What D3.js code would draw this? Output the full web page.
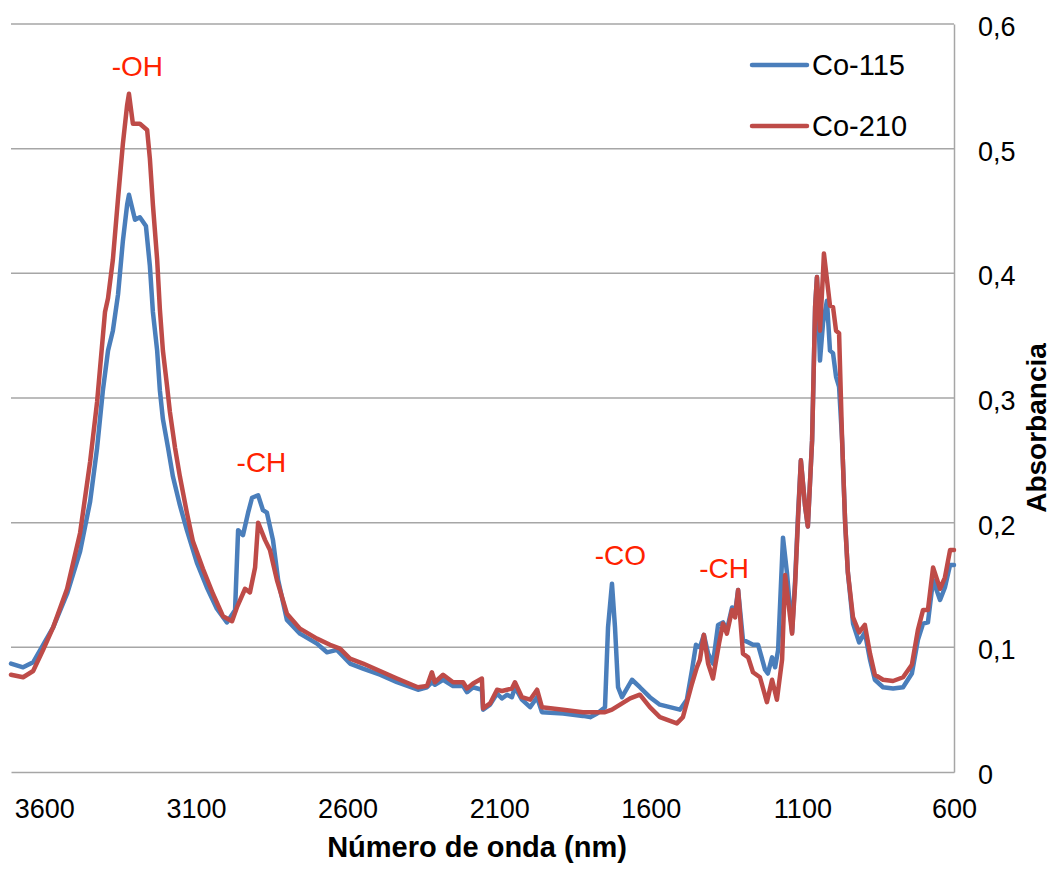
<!DOCTYPE html>
<html><head><meta charset="utf-8">
<script src="https://cdn.jsdelivr.net/npm/d3@7"></script>
<style>
body{margin:0;background:#fff;}
svg{display:block;font-family:"Liberation Sans",Arial,sans-serif;}
</style></head>
<body><svg id="chart" width="1057" height="869"></svg>
<script>
// ---- data ----
const seriesNames = ["Co-115", "Co-210"];
const xTickValues = [3600, 3100, 2600, 2100, 1600, 1100, 600];
const yTickValues = [0, 0.1, 0.2, 0.3, 0.4, 0.5, 0.6];
const yTickLabels = ["0", "0,1", "0,2", "0,3", "0,4", "0,5", "0,6"];
const annotationLabels = ["-OH", "-CH", "-CO", "-CH"];
const annotationWn = [3293, 2884, 1700, 1358];
const annotationAbs = [0.558, 0.241, 0.166, 0.156];

const co115Wn = [3710,3670,3637,3604,3571,3525,3482,3449,3426,3407,3390,3374,3357,3341,3327,3321,3301,3285,3265,3252,3242,3228,3219,3209,3192,3176,3153,3130,3097,3064,3031,2998,2971,2961,2945,2928,2915,2895,2879,2866,2846,2829,2800,2757,2701,2668,2635,2592,2549,2493,2437,2368,2338,2322,2312,2285,2252,2219,2206,2186,2157,2153,2130,2107,2091,2074,2058,2048,2025,1998,1975,1959,1889,1824,1800,1777,1751,1741,1728,1718,1708,1695,1662,1636,1603,1570,1537,1504,1481,1464,1451,1438,1425,1411,1395,1378,1362,1349,1332,1322,1312,1296,1279,1263,1246,1223,1214,1200,1190,1180,1164,1151,1134,1124,1114,1105,1091,1082,1068,1058,1052,1042,1032,1019,1009,999,989,979,969,959,950,933,913,894,877,861,834,801,768,739,719,702,686,669,646,630,613,600];
const co115Abs = [0.087,0.084,0.088,0.102,0.116,0.143,0.177,0.217,0.260,0.306,0.338,0.354,0.383,0.426,0.455,0.463,0.443,0.445,0.438,0.406,0.369,0.338,0.306,0.283,0.260,0.237,0.214,0.194,0.168,0.148,0.131,0.120,0.130,0.194,0.190,0.208,0.220,0.222,0.210,0.208,0.186,0.154,0.122,0.111,0.103,0.096,0.098,0.087,0.083,0.078,0.072,0.066,0.068,0.072,0.070,0.074,0.069,0.069,0.064,0.068,0.066,0.050,0.054,0.063,0.059,0.062,0.060,0.068,0.058,0.052,0.060,0.048,0.047,0.045,0.044,0.047,0.052,0.116,0.151,0.116,0.068,0.060,0.074,0.068,0.060,0.054,0.052,0.050,0.058,0.082,0.102,0.100,0.110,0.095,0.087,0.118,0.120,0.114,0.132,0.128,0.146,0.106,0.104,0.102,0.102,0.082,0.079,0.092,0.084,0.098,0.188,0.160,0.112,0.154,0.208,0.250,0.213,0.197,0.266,0.373,0.397,0.330,0.360,0.378,0.338,0.336,0.317,0.309,0.266,0.200,0.160,0.119,0.104,0.112,0.090,0.074,0.068,0.067,0.068,0.079,0.106,0.119,0.120,0.154,0.138,0.148,0.166,0.166];

const co210Wn = [3710,3670,3637,3604,3571,3525,3482,3449,3426,3400,3390,3374,3357,3341,3327,3321,3308,3285,3261,3252,3242,3228,3219,3209,3196,3186,3169,3153,3130,3110,3077,3044,3011,2981,2965,2938,2922,2905,2895,2872,2856,2833,2800,2757,2701,2658,2625,2592,2549,2493,2437,2368,2338,2322,2312,2285,2252,2219,2206,2186,2157,2153,2130,2107,2091,2074,2058,2048,2025,1998,1975,1959,1889,1824,1777,1751,1728,1668,1636,1603,1570,1514,1494,1464,1448,1438,1425,1411,1395,1375,1362,1349,1332,1322,1312,1296,1279,1263,1240,1217,1200,1184,1167,1157,1134,1124,1114,1105,1091,1082,1068,1058,1052,1042,1032,1029,1019,1009,999,989,979,969,959,950,933,913,894,877,861,834,801,768,739,719,702,686,669,646,630,613,600];
const co210Abs = [0.078,0.076,0.081,0.098,0.116,0.147,0.192,0.249,0.297,0.369,0.380,0.411,0.460,0.504,0.535,0.544,0.520,0.520,0.515,0.492,0.455,0.411,0.371,0.338,0.311,0.289,0.260,0.237,0.208,0.185,0.163,0.143,0.125,0.121,0.132,0.147,0.144,0.164,0.200,0.186,0.178,0.154,0.127,0.115,0.107,0.102,0.099,0.091,0.087,0.081,0.075,0.068,0.069,0.080,0.072,0.078,0.072,0.072,0.067,0.071,0.075,0.051,0.055,0.066,0.065,0.066,0.067,0.072,0.060,0.058,0.066,0.052,0.050,0.048,0.048,0.048,0.050,0.059,0.062,0.052,0.044,0.039,0.044,0.071,0.084,0.090,0.110,0.087,0.075,0.103,0.119,0.111,0.130,0.124,0.146,0.095,0.092,0.080,0.076,0.056,0.074,0.058,0.090,0.158,0.111,0.150,0.205,0.250,0.213,0.197,0.266,0.373,0.397,0.354,0.400,0.416,0.395,0.374,0.373,0.354,0.352,0.266,0.200,0.160,0.124,0.112,0.118,0.095,0.078,0.074,0.073,0.076,0.086,0.114,0.130,0.130,0.164,0.147,0.156,0.178,0.178];

const colors = ["#4a7ebb", "#be4b48"];

// ---- chart ----
const svg = d3.select("#chart");
const plot = {left: 11, right: 954, top: 24, bottom: 772};
const x = d3.scaleLinear().domain([3710, 600]).range([plot.left, plot.right]);
const y = d3.scaleLinear().domain([0, 0.6]).range([plot.bottom, plot.top]);

// gridlines
svg.append("g").selectAll("line").data(yTickValues.filter(v => v > 0)).join("line")
  .attr("x1", plot.left).attr("x2", plot.right)
  .attr("y1", d => y(d)).attr("y2", d => y(d))
  .attr("stroke", "#a6a6a6").attr("stroke-width", 1.5);

// x axis
const xAxis = svg.append("g").attr("transform", `translate(0,${plot.bottom})`)
  .call(d3.axisBottom(x).tickValues(xTickValues).tickSize(0).tickPadding(0).tickFormat(d3.format("d")));
xAxis.select(".domain").attr("stroke", "#a6a6a6").attr("stroke-width", 1.5);
xAxis.selectAll("text").attr("font-size", 27).attr("fill", "#000")
  .attr("font-family", "Liberation Sans, Arial, sans-serif").attr("dy", null).attr("y", 46);

// y axis (right)
const yAxis = svg.append("g").attr("transform", `translate(${plot.right},0)`)
  .call(d3.axisRight(y).tickValues(yTickValues).tickSize(0).tickPadding(24)
    .tickFormat((d, i) => yTickLabels[i]));
yAxis.select(".domain").attr("stroke", "#a6a6a6").attr("stroke-width", 1.5);
yAxis.selectAll("text").attr("font-size", 27).attr("fill", "#000")
  .attr("font-family", "Liberation Sans, Arial, sans-serif").attr("dy", "0.42em");

// lines
const line = d3.line().x(d => x(d[0])).y(d => y(d[1])).curve(d3.curveLinear);
const seriesData = [
  d3.zip(co115Wn, co115Abs),
  d3.zip(co210Wn, co210Abs)
];
svg.append("g").selectAll("path").data(seriesData).join("path")
  .attr("d", line).attr("fill", "none")
  .attr("stroke", (d, i) => colors[i]).attr("stroke-width", 4.5)
  .attr("stroke-linejoin", "round").attr("stroke-linecap", "round");

// annotations
svg.append("g").selectAll("text").data(annotationLabels).join("text")
  .attr("x", (d, i) => x(annotationWn[i])).attr("y", (d, i) => y(annotationAbs[i]))
  .attr("text-anchor", "middle").attr("font-size", 28).attr("fill", "#ff2200")
  .text(d => d);

// legend
const legendY = [65, 126];
const lg = svg.append("g");
seriesNames.forEach((name, i) => {
  lg.append("line").attr("x1", 752).attr("x2", 807).attr("y1", legendY[i]).attr("y2", legendY[i])
    .attr("stroke", colors[i]).attr("stroke-width", 4.5).attr("stroke-linecap", "round");
  lg.append("text").attr("x", 812).attr("y", legendY[i]).attr("dy", "0.36em")
    .attr("font-size", 29).attr("fill", "#000").text(name);
});

// axis titles
svg.append("text").attr("x", 477).attr("y", 857).attr("text-anchor", "middle")
  .attr("font-size", 29).attr("font-weight", "bold").text("Número de onda (nm)");
svg.append("text").attr("transform", "translate(1046,428) rotate(-90)").attr("text-anchor", "middle")
  .attr("font-size", 28).attr("font-weight", "bold").text("Absorbancia");
</script></body></html>
